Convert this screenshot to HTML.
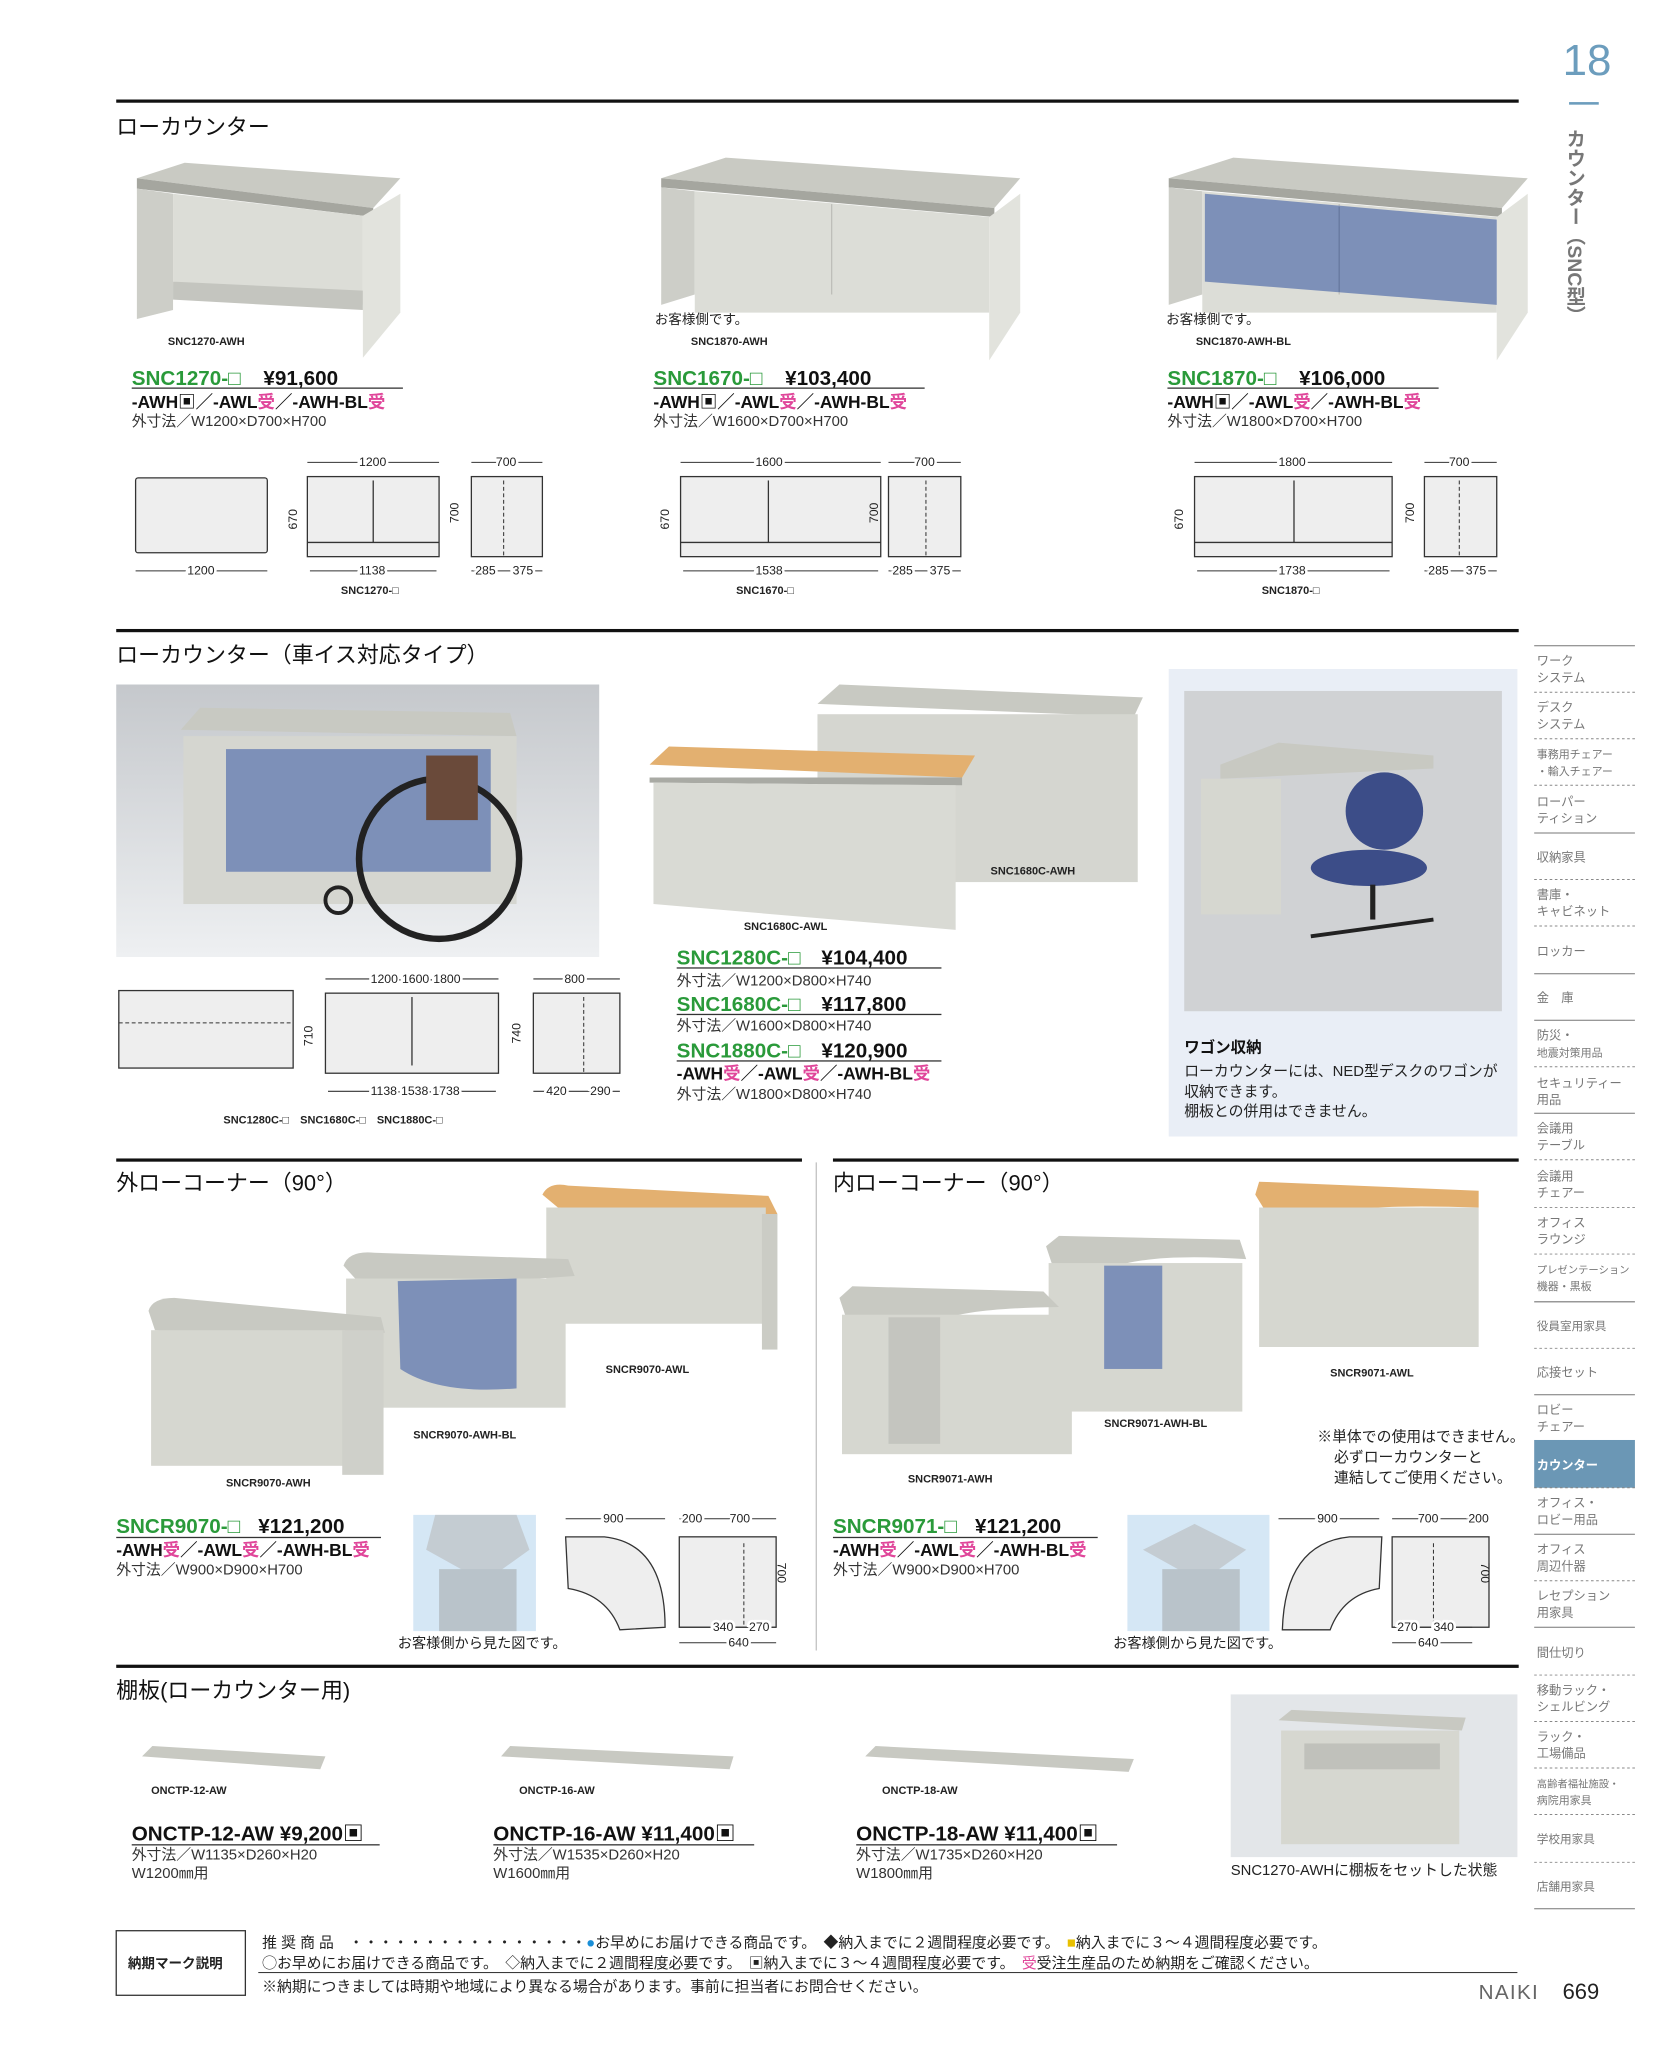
<!DOCTYPE html>
<html><head><meta charset="utf-8">
<style>
html,body{margin:0;padding:0;background:#fff;width:1653px;height:2047px;overflow:hidden}
svg{display:block}
text{font-family:"Liberation Sans","Noto Sans CJK JP",sans-serif}
.h{font-size:17px;fill:#111}
.lb{font-size:8.5px;font-weight:bold;fill:#222}
.g{font-size:16px;font-weight:bold;fill:#2a9a3a}
.p{font-size:16px;font-weight:bold;fill:#111}
.v{font-size:13.5px;font-weight:bold;fill:#111}
.s{font-size:11.5px;fill:#333}
.d{font-size:9.5px;fill:#222}
.sb{font-size:9.5px;fill:#777}
.m{fill:#e0469a}
</style></head><body>
<svg width="1653" height="2047" viewBox="0 0 1280 1585" xmlns="http://www.w3.org/2000/svg">
<defs>
<linearGradient id="bg1" x1="0" y1="0" x2="0" y2="1"><stop offset="0" stop-color="#c5c8cc"/><stop offset="1" stop-color="#eef0f2"/></linearGradient>
<g id="cnt">
<polygon points="512,138 562,122 790,138 770,161" fill="#c9cac3"/>
<polygon points="512,138 770,161 770,168 512,145" fill="#a5a69f"/>
<polygon points="512,145 538,148 538,228 512,236" fill="#cdcec8"/>
<polygon points="538,148 766,168 766,242 538,242" fill="#dcddd7"/>
<polygon points="766,168 790,150 790,242 766,279" fill="#e2e3dd"/>
<line x1="644" y1="158" x2="644" y2="228" stroke="#bdbeb8"/>
</g>
</defs>
<!-- header -->
<text x="1210" y="58" font-size="34" fill="#6c9dbd">18</text>
<rect x="1215" y="79" width="23" height="2" fill="#6c9dbd"/>
<text x="1219" y="100" font-size="15" fill="#777" style="writing-mode:vertical-rl" font-weight="bold">カウンター（SNC型）</text>

<rect x="90" y="77" width="1086" height="2.5" fill="#111"/>
<text x="90" y="104" class="h">ローカウンター</text>

<!-- counter 1 -->
<polygon points="106,138 143,126 310,138 289,161" fill="#c9cac3"/>
<polygon points="106,138 289,161 289,168 106,146" fill="#a5a69f"/>
<polygon points="106,146 134,150 134,240 106,247" fill="#cdcec8"/>
<polygon points="134,150 281,167 281,236 134,218" fill="#dcddd7"/>
<polygon points="134,218 281,225 281,240 134,232" fill="#c4c5bf"/>
<polygon points="281,167 310,150 310,242 281,277" fill="#e2e3dd"/>
<text x="130" y="267" class="lb">SNC1270-AWH</text>
<!-- counter 2 -->
<use href="#cnt"/>
<text x="507" y="251" font-size="10.5" fill="#222">お客様側です。</text>
<text x="535" y="267" class="lb">SNC1870-AWH</text>
<!-- counter 3 -->
<g transform="translate(393,0)">
<use href="#cnt"/>
<polygon points="540,150 766,170 766,236 540,218" fill="#7d90b8"/>
<line x1="644" y1="160" x2="644" y2="226" stroke="#66799f"/>
</g>
<text x="903" y="251" font-size="10.5" fill="#222">お客様側です。</text>
<text x="926" y="267" class="lb">SNC1870-AWH-BL</text>

<!-- prices row 1 -->
<text x="102" y="298" class="g">SNC1270-□</text><text x="204" y="298" class="p">¥91,600</text>
<rect x="102" y="300" width="210" height="1" fill="#333"/>
<text x="102" y="316" class="v">-AWH▣／-AWL<tspan class="m">受</tspan>／-AWH-BL<tspan class="m">受</tspan></text>
<text x="102" y="330" class="s">外寸法／W1200×D700×H700</text>
<text x="506" y="298" class="g">SNC1670-□</text><text x="608" y="298" class="p">¥103,400</text>
<rect x="506" y="300" width="210" height="1" fill="#333"/>
<text x="506" y="316" class="v">-AWH▣／-AWL<tspan class="m">受</tspan>／-AWH-BL<tspan class="m">受</tspan></text>
<text x="506" y="330" class="s">外寸法／W1600×D700×H700</text>
<text x="904" y="298" class="g">SNC1870-□</text><text x="1006" y="298" class="p">¥106,000</text>
<rect x="904" y="300" width="210" height="1" fill="#333"/>
<text x="904" y="316" class="v">-AWH▣／-AWL<tspan class="m">受</tspan>／-AWH-BL<tspan class="m">受</tspan></text>
<text x="904" y="330" class="s">外寸法／W1800×D700×H700</text>

<!-- dims row 1 -->
<g fill="#eee" stroke="#333" stroke-width="1">
<rect x="105" y="370" width="102" height="58" rx="2"/>
<rect x="238" y="369" width="102" height="62"/><line x1="289" y1="372" x2="289" y2="420"/><line x1="238" y1="420" x2="340" y2="420"/>
<rect x="365" y="369" width="55" height="62"/>
<rect x="527" y="369" width="155" height="62"/><line x1="595" y1="372" x2="595" y2="420"/><line x1="527" y1="420" x2="682" y2="420"/>
<rect x="688" y="369" width="56" height="62"/>
<rect x="925" y="369" width="153" height="62"/><line x1="1002" y1="372" x2="1002" y2="420"/><line x1="925" y1="420" x2="1078" y2="420"/>
<rect x="1103" y="369" width="56" height="62"/>
</g>
<g stroke="#333" stroke-width="0.8" fill="none">
<line x1="238" y1="358" x2="340" y2="358"/><line x1="365" y1="358" x2="420" y2="358"/>
<line x1="105" y1="442" x2="207" y2="442"/><line x1="240" y1="442" x2="338" y2="442"/><line x1="365" y1="442" x2="420" y2="442"/>
<line x1="527" y1="358" x2="682" y2="358"/><line x1="688" y1="358" x2="744" y2="358"/>
<line x1="529" y1="442" x2="680" y2="442"/><line x1="688" y1="442" x2="744" y2="442"/>
<line x1="925" y1="358" x2="1078" y2="358"/><line x1="1103" y1="358" x2="1159" y2="358"/>
<line x1="927" y1="442" x2="1076" y2="442"/><line x1="1103" y1="442" x2="1159" y2="442"/>
<line x1="390" y1="372" x2="390" y2="430" stroke-dasharray="3,2"/><line x1="717" y1="372" x2="717" y2="430" stroke-dasharray="3,2"/><line x1="1130" y1="372" x2="1130" y2="430" stroke-dasharray="3,2"/>
</g>
<g>
<text x="278" y="361" class="d" stroke="#fff" stroke-width="4" style="paint-order:stroke">1200</text>
<text x="384" y="361" class="d" stroke="#fff" stroke-width="4" style="paint-order:stroke">700</text>
<text x="145" y="445" class="d" stroke="#fff" stroke-width="4" style="paint-order:stroke">1200</text>
<text x="278" y="445" class="d" stroke="#fff" stroke-width="4" style="paint-order:stroke">1138</text>
<text x="368" y="445" class="d" stroke="#fff" stroke-width="4" style="paint-order:stroke">285</text><text x="397" y="445" class="d" stroke="#fff" stroke-width="4" style="paint-order:stroke">375</text>
<text x="264" y="460" class="lb">SNC1270-□</text>
<text x="585" y="361" class="d" stroke="#fff" stroke-width="4" style="paint-order:stroke">1600</text>
<text x="708" y="361" class="d" stroke="#fff" stroke-width="4" style="paint-order:stroke">700</text>
<text x="585" y="445" class="d" stroke="#fff" stroke-width="4" style="paint-order:stroke">1538</text>
<text x="691" y="445" class="d" stroke="#fff" stroke-width="4" style="paint-order:stroke">285</text><text x="720" y="445" class="d" stroke="#fff" stroke-width="4" style="paint-order:stroke">375</text>
<text x="570" y="460" class="lb">SNC1670-□</text>
<text x="990" y="361" class="d" stroke="#fff" stroke-width="4" style="paint-order:stroke">1800</text>
<text x="1122" y="361" class="d" stroke="#fff" stroke-width="4" style="paint-order:stroke">700</text>
<text x="990" y="445" class="d" stroke="#fff" stroke-width="4" style="paint-order:stroke">1738</text>
<text x="1106" y="445" class="d" stroke="#fff" stroke-width="4" style="paint-order:stroke">285</text><text x="1135" y="445" class="d" stroke="#fff" stroke-width="4" style="paint-order:stroke">375</text>
<text x="977" y="460" class="lb">SNC1870-□</text>
<text x="230" y="410" class="d" transform="rotate(-90 230 410)">670</text>
<text x="355" y="405" class="d" transform="rotate(-90 355 405)">700</text>
<text x="518" y="410" class="d" transform="rotate(-90 518 410)">670</text>
<text x="680" y="405" class="d" transform="rotate(-90 680 405)">700</text>
<text x="916" y="410" class="d" transform="rotate(-90 916 410)">670</text>
<text x="1095" y="405" class="d" transform="rotate(-90 1095 405)">700</text>
</g>

<!-- section 2 -->
<rect x="90" y="487" width="1086" height="2.5" fill="#111"/>
<text x="90" y="513" class="h">ローカウンター（車イス対応タイプ）</text>
<rect x="90" y="530" width="374" height="211" fill="url(#bg1)"/>
<polygon points="140,565 155,548 395,552 400,570" fill="#c8c9c2"/>
<rect x="142" y="570" width="258" height="130" fill="#d5d6d0"/>
<rect x="175" y="580" width="205" height="95" fill="#7d90b8"/>
<circle cx="340" cy="665" r="62" fill="none" stroke="#222" stroke-width="5"/>
<rect x="330" y="585" width="40" height="50" fill="#6a4a3a"/>
<circle cx="262" cy="697" r="10" fill="none" stroke="#222" stroke-width="3"/>

<polygon points="633,545 650,530 885,540 878,555" fill="#c8c9c2"/>
<rect x="633" y="553" width="248" height="130" fill="#d5d6d0"/>
<polygon points="503,592 518,578 755,585 745,602" fill="#e3b070"/>
<polygon points="503,602 745,602 745,608 503,606" fill="#a9aaa4"/>
<polygon points="506,606 740,608 740,720 506,700" fill="#d9dad4"/>
<text x="767" y="677" class="lb">SNC1680C-AWH</text>
<text x="576" y="720" class="lb">SNC1680C-AWL</text>

<rect x="905" y="518" width="270" height="362" fill="#e9eef6"/>
<rect x="917" y="535" width="246" height="248" fill="#d0d2d4"/>
<polygon points="945,592 990,575 1110,585 1110,595 945,603" fill="#c8c9c2"/>
<rect x="930" y="603" width="62" height="105" fill="#d6d7d0"/>
<ellipse cx="1072" cy="628" rx="30" ry="30" fill="#3c4d88"/>
<ellipse cx="1060" cy="672" rx="45" ry="14" fill="#3c4d88"/>
<line x1="1063" y1="685" x2="1063" y2="712" stroke="#222" stroke-width="4"/>
<line x1="1015" y1="725" x2="1110" y2="712" stroke="#222" stroke-width="3"/>
<text x="917" y="815" font-size="12" font-weight="bold" fill="#111">ワゴン収納</text>
<text x="917" y="833" font-size="11.5" fill="#222">ローカウンターには、NED型デスクのワゴンが</text>
<text x="917" y="849" font-size="11.5" fill="#222">収納できます。</text>
<text x="917" y="864" font-size="11.5" fill="#222">棚板との併用はできません。</text>

<text x="524" y="747" class="g">SNC1280C-□</text><text x="636" y="747" class="p">¥104,400</text>
<rect x="524" y="749" width="205" height="1" fill="#333"/>
<text x="524" y="763" class="s">外寸法／W1200×D800×H740</text>
<text x="524" y="783" class="g">SNC1680C-□</text><text x="636" y="783" class="p">¥117,800</text>
<rect x="524" y="785" width="205" height="1" fill="#333"/>
<text x="524" y="798" class="s">外寸法／W1600×D800×H740</text>
<text x="524" y="819" class="g">SNC1880C-□</text><text x="636" y="819" class="p">¥120,900</text>
<rect x="524" y="821" width="205" height="1" fill="#333"/>
<text x="524" y="836" class="v">-AWH<tspan class="m">受</tspan>／-AWL<tspan class="m">受</tspan>／-AWH-BL<tspan class="m">受</tspan></text>
<text x="524" y="851" class="s">外寸法／W1800×D800×H740</text>

<g fill="#eee" stroke="#333">
<rect x="92" y="767" width="135" height="60"/>
<rect x="252" y="769" width="134" height="62"/><line x1="319" y1="772" x2="319" y2="825"/>
<rect x="413" y="769" width="67" height="62"/>
</g>
<g stroke="#333" stroke-width="0.8">
<line x1="92" y1="792" x2="227" y2="792" stroke-dasharray="3,2"/>
<line x1="252" y1="758" x2="386" y2="758"/><line x1="413" y1="758" x2="480" y2="758"/>
<line x1="254" y1="845" x2="384" y2="845"/><line x1="413" y1="845" x2="480" y2="845"/>
<line x1="452" y1="772" x2="452" y2="830" stroke-dasharray="3,2"/>
</g>
<text x="287" y="761" class="d" stroke="#fff" stroke-width="4" style="paint-order:stroke">1200·1600·1800</text>
<text x="437" y="761" class="d" stroke="#fff" stroke-width="4" style="paint-order:stroke">800</text>
<text x="287" y="848" class="d" stroke="#fff" stroke-width="4" style="paint-order:stroke">1138·1538·1738</text>
<text x="423" y="848" class="d" stroke="#fff" stroke-width="4" style="paint-order:stroke">420</text><text x="457" y="848" class="d" stroke="#fff" stroke-width="4" style="paint-order:stroke">290</text>
<text x="242" y="810" class="d" transform="rotate(-90 242 810)">710</text>
<text x="403" y="808" class="d" transform="rotate(-90 403 808)">740</text>
<text x="173" y="870" class="lb">SNC1280C-□　SNC1680C-□　SNC1880C-□</text>

<!-- section 3 -->
<rect x="90" y="897" width="531" height="2.5" fill="#111"/>
<rect x="645" y="897" width="531" height="2.5" fill="#111"/>
<line x1="632" y1="900" x2="632" y2="1278" stroke="#999" stroke-width="0.6"/>
<text x="90" y="922" class="h">外ローコーナー（90°）</text>
<text x="645" y="922" class="h">内ローコーナー（90°）</text>
<path d="M420,925 Q425,915 440,918 L595,926 L602,940 L590,945 Q520,945 432,935 Z" fill="#e3b070"/>
<rect x="423" y="935" width="170" height="90" fill="#d6d7d0"/><rect x="590" y="940" width="12" height="105" fill="#cbccc5"/>
<path d="M266,980 Q270,968 290,970 L440,975 L445,988 Q360,995 275,990 Z" fill="#c8c9c2"/>
<rect x="268" y="990" width="170" height="100" fill="#d6d7d0"/>
<path d="M308,992 L400,990 L400,1075 Q340,1080 310,1060 Z" fill="#7d90b8"/>
<path d="M115,1015 Q118,1005 135,1005 L295,1020 L298,1032 Q210,1035 120,1030 Z" fill="#c8c9c2"/>
<rect x="117" y="1030" width="150" height="105" fill="#d6d7d0"/><rect x="265" y="1030" width="32" height="112" fill="#cfd0ca"/>
<text x="469" y="1063" class="lb">SNCR9070-AWL</text>
<text x="320" y="1114" class="lb">SNCR9070-AWH-BL</text>
<text x="175" y="1151" class="lb">SNCR9070-AWH</text>
<path d="M972,925 L975,915 L1145,922 L1145,935 Q1055,932 1030,940 L980,938 Z" fill="#e3b070"/>
<rect x="975" y="935" width="170" height="108" fill="#d6d7d0"/>
<path d="M810,965 L820,957 L960,960 L965,975 Q890,970 860,982 L815,980 Z" fill="#c8c9c2"/>
<rect x="812" y="978" width="150" height="115" fill="#d6d7d0"/><rect x="855" y="980" width="45" height="80" fill="#7d90b8"/>
<path d="M650,1005 L660,996 L808,1000 L820,1012 Q750,1013 730,1022 L655,1020 Z" fill="#c8c9c2"/>
<rect x="652" y="1018" width="178" height="108" fill="#d6d7d0"/><rect x="688" y="1020" width="40" height="98" fill="#c4c5bf"/>
<text x="1030" y="1066" class="lb">SNCR9071-AWL</text>
<text x="855" y="1105" class="lb">SNCR9071-AWH-BL</text>
<text x="703" y="1148" class="lb">SNCR9071-AWH</text>
<text x="1020" y="1116" font-size="11.5" fill="#222">※単体での使用はできません。</text>
<text x="1033" y="1132" font-size="11.5" fill="#222">必ずローカウンターと</text>
<text x="1033" y="1148" font-size="11.5" fill="#222">連結してご使用ください。</text>

<text x="90" y="1187" class="g">SNCR9070-□</text><text x="200" y="1187" class="p">¥121,200</text>
<rect x="90" y="1190" width="205" height="1" fill="#333"/>
<text x="90" y="1205" class="v">-AWH<tspan class="m">受</tspan>／-AWL<tspan class="m">受</tspan>／-AWH-BL<tspan class="m">受</tspan></text>
<text x="90" y="1219" class="s">外寸法／W900×D900×H700</text>
<text x="645" y="1187" class="g">SNCR9071-□</text><text x="755" y="1187" class="p">¥121,200</text>
<rect x="645" y="1190" width="205" height="1" fill="#333"/>
<text x="645" y="1205" class="v">-AWH<tspan class="m">受</tspan>／-AWL<tspan class="m">受</tspan>／-AWH-BL<tspan class="m">受</tspan></text>
<text x="645" y="1219" class="s">外寸法／W900×D900×H700</text>

<rect x="320" y="1173" width="95" height="90" fill="#d5e7f5"/>
<polygon points="337,1173 400,1173 410,1200 375,1225 330,1200" fill="#c4ccd2"/>
<rect x="340" y="1215" width="60" height="48" fill="#b9c3ca"/>
<rect x="873" y="1173" width="110" height="90" fill="#d5e7f5"/>
<polygon points="885,1200 925,1180 965,1200 930,1225" fill="#c4ccd2"/>
<rect x="900" y="1215" width="60" height="48" fill="#b9c3ca"/>
<g fill="#eee" stroke="#333">
<path d="M438,1190 L468,1190 Q515,1195 515,1260 L480,1262 Q470,1235 440,1230 Z"/>
<rect x="526" y="1190" width="75" height="70"/>
<path d="M1070,1190 L1045,1190 Q995,1195 993,1262 L1030,1262 Q1040,1235 1068,1230 Z"/>
<rect x="1078" y="1190" width="75" height="70"/>
</g>
<g stroke="#333" stroke-width="0.8">
<line x1="438" y1="1176" x2="515" y2="1176"/><line x1="526" y1="1176" x2="601" y2="1176"/>
<line x1="526" y1="1260" x2="601" y2="1260"/><line x1="526" y1="1272" x2="601" y2="1272"/>
<line x1="990" y1="1176" x2="1068" y2="1176"/><line x1="1078" y1="1176" x2="1153" y2="1176"/>
<line x1="1078" y1="1260" x2="1140" y2="1260"/><line x1="1078" y1="1272" x2="1140" y2="1272"/>
<line x1="576" y1="1195" x2="576" y2="1258" stroke-dasharray="3,2"/><line x1="1110" y1="1195" x2="1110" y2="1258" stroke-dasharray="3,2"/>
</g>
<text x="467" y="1179" class="d" stroke="#fff" stroke-width="4" style="paint-order:stroke">900</text>
<text x="528" y="1179" class="d" font-size="8" stroke="#fff" stroke-width="4" style="paint-order:stroke">200</text><text x="565" y="1179" class="d" stroke="#fff" stroke-width="4" style="paint-order:stroke">700</text>
<text x="552" y="1263" class="d" stroke="#fff" stroke-width="4" style="paint-order:stroke">340</text><text x="580" y="1263" class="d" stroke="#fff" stroke-width="4" style="paint-order:stroke">270</text><text x="564" y="1275" class="d" stroke="#fff" stroke-width="4" style="paint-order:stroke">640</text>
<text x="1020" y="1179" class="d" stroke="#fff" stroke-width="4" style="paint-order:stroke">900</text>
<text x="1098" y="1179" class="d" stroke="#fff" stroke-width="4" style="paint-order:stroke">700</text><text x="1137" y="1179" class="d" font-size="8" stroke="#fff" stroke-width="4" style="paint-order:stroke">200</text>
<text x="1082" y="1263" class="d" stroke="#fff" stroke-width="4" style="paint-order:stroke">270</text><text x="1110" y="1263" class="d" stroke="#fff" stroke-width="4" style="paint-order:stroke">340</text><text x="1098" y="1275" class="d" stroke="#fff" stroke-width="4" style="paint-order:stroke">640</text>
<text x="617" y="1225" class="d" transform="rotate(90 617 1210)">700</text>
<text x="1162" y="1225" class="d" transform="rotate(90 1162 1210)">700</text>
<text x="308" y="1276" font-size="11" fill="#222">お客様側から見た図です。</text>
<text x="862" y="1276" font-size="11" fill="#222">お客様側から見た図です。</text>

<!-- section 4 -->
<rect x="90" y="1289" width="1086" height="2.5" fill="#111"/>
<text x="90" y="1315" class="h">棚板(ローカウンター用)</text>
<polygon points="110,1360 118,1352 252,1360 248,1370" fill="#c8c9c2"/>
<polygon points="388,1360 395,1352 568,1360 565,1370" fill="#c8c9c2"/>
<polygon points="670,1360 678,1352 878,1362 874,1372" fill="#c8c9c2"/>
<text x="117" y="1389" class="lb">ONCTP-12-AW</text>
<text x="402" y="1389" class="lb">ONCTP-16-AW</text>
<text x="683" y="1389" class="lb">ONCTP-18-AW</text>
<text x="102" y="1425" class="p">ONCTP-12-AW ¥9,200▣</text><rect x="102" y="1428" width="192" height="1" fill="#333"/>
<text x="102" y="1440" class="s">外寸法／W1135×D260×H20</text><text x="102" y="1454" class="s">W1200㎜用</text>
<text x="382" y="1425" class="p">ONCTP-16-AW ¥11,400▣</text><rect x="382" y="1428" width="202" height="1" fill="#333"/>
<text x="382" y="1440" class="s">外寸法／W1535×D260×H20</text><text x="382" y="1454" class="s">W1600㎜用</text>
<text x="663" y="1425" class="p">ONCTP-18-AW ¥11,400▣</text><rect x="663" y="1428" width="202" height="1" fill="#333"/>
<text x="663" y="1440" class="s">外寸法／W1735×D260×H20</text><text x="663" y="1454" class="s">W1800㎜用</text>
<rect x="953" y="1312" width="222" height="126" fill="#e3e6e9"/>
<polygon points="990,1332 1000,1324 1135,1330 1132,1340" fill="#c8c9c2"/>
<rect x="992" y="1340" width="138" height="88" fill="#d6d7d0"/>
<rect x="1010" y="1350" width="105" height="20" fill="#c0c1bb"/>
<text x="953" y="1452" font-size="11.5" fill="#222">SNC1270-AWHに棚板をセットした状態</text>

<!-- legend -->
<rect x="90" y="1495" width="100" height="50" fill="#fff" stroke="#333"/>
<text x="99" y="1524" font-size="10.5" font-weight="bold" fill="#222">納期マーク説明</text>
<g font-size="11.5" fill="#222">
<text x="203" y="1508">推 奨 商 品　・・・・・・・・・・・・・・・・<tspan fill="#1a8fd8">●</tspan>お早めにお届けできる商品です。　◆納入までに２週間程度必要です。　<tspan fill="#e8c000">■</tspan>納入までに３～４週間程度必要です。</text>
<text x="203" y="1524">◯お早めにお届けできる商品です。　◇納入までに２週間程度必要です。　▣納入までに３～４週間程度必要です。　<tspan class="m">受</tspan>受注生産品のため納期をご確認ください。</text>
<text x="203" y="1542">※納期につきましては時期や地域により異なる場合があります。事前に担当者にお問合せください。</text>
</g>
<rect x="200" y="1527" width="975" height="0.8" fill="#333"/>
<text x="1145" y="1548" font-size="16" fill="#666" letter-spacing="1">NAIKI</text>
<text x="1210" y="1548" font-size="17" fill="#222">669</text>

<!-- sidebar -->
<rect x="1188" y="1115" width="78" height="37" fill="#6b97b5"/>
<g class="sb">
<text x="1190" y="515">ワーク</text><text x="1190" y="528">システム</text>
<text x="1190" y="551">デスク</text><text x="1190" y="564">システム</text>
<text x="1190" y="587" font-size="8.5">事務用チェアー</text><text x="1190" y="600" font-size="8.5">・輸入チェアー</text>
<text x="1190" y="624">ローパー</text><text x="1190" y="637">ティション</text>
<text x="1190" y="667">収納家具</text>
<text x="1190" y="696">書庫・</text><text x="1190" y="709">キャビネット</text>
<text x="1190" y="740">ロッカー</text>
<text x="1190" y="776">金　庫</text>
<text x="1190" y="805">防災・</text><text x="1190" y="818" font-size="8.5">地震対策用品</text>
<text x="1190" y="842">セキュリティー</text><text x="1190" y="855">用品</text>
<text x="1190" y="877">会議用</text><text x="1190" y="890">テーブル</text>
<text x="1190" y="914">会議用</text><text x="1190" y="927">チェアー</text>
<text x="1190" y="950">オフィス</text><text x="1190" y="963">ラウンジ</text>
<text x="1190" y="986" font-size="8">プレゼンテーション</text><text x="1190" y="999" font-size="8.5">機器・黒板</text>
<text x="1190" y="1030" font-size="9">役員室用家具</text>
<text x="1190" y="1066">応接セット</text>
<text x="1190" y="1095">ロビー</text><text x="1190" y="1108">チェアー</text>
<text x="1190" y="1138" fill="#fff" font-weight="bold">カウンター</text>
<text x="1190" y="1167">オフィス・</text><text x="1190" y="1180">ロビー用品</text>
<text x="1190" y="1203">オフィス</text><text x="1190" y="1216">周辺什器</text>
<text x="1190" y="1239">レセプション</text><text x="1190" y="1252">用家具</text>
<text x="1190" y="1283">間仕切り</text>
<text x="1190" y="1312">移動ラック・</text><text x="1190" y="1325">シェルビング</text>
<text x="1190" y="1348">ラック・</text><text x="1190" y="1361">工場備品</text>
<text x="1190" y="1384" font-size="8">高齢者福祉施設・</text><text x="1190" y="1397" font-size="8.5">病院用家具</text>
<text x="1190" y="1427" font-size="9">学校用家具</text>
<text x="1190" y="1464" font-size="9">店舗用家具</text>
</g>
<g stroke="#888" stroke-width="0.7" stroke-dasharray="2,2">
<line x1="1188" y1="536" x2="1266" y2="536"/><line x1="1188" y1="572" x2="1266" y2="572"/><line x1="1188" y1="608" x2="1266" y2="608"/>
<line x1="1188" y1="681" x2="1266" y2="681"/><line x1="1188" y1="717" x2="1266" y2="717"/>
<line x1="1188" y1="826" x2="1266" y2="826"/><line x1="1188" y1="898" x2="1266" y2="898"/><line x1="1188" y1="935" x2="1266" y2="935"/><line x1="1188" y1="971" x2="1266" y2="971"/>
<line x1="1188" y1="1044" x2="1266" y2="1044"/><line x1="1188" y1="1152" x2="1266" y2="1152"/><line x1="1188" y1="1224" x2="1266" y2="1224"/>
<line x1="1188" y1="1297" x2="1266" y2="1297"/><line x1="1188" y1="1333" x2="1266" y2="1333"/><line x1="1188" y1="1369" x2="1266" y2="1369"/><line x1="1188" y1="1405" x2="1266" y2="1405"/><line x1="1188" y1="1442" x2="1266" y2="1442"/>
</g>
<g stroke="#777" stroke-width="0.8">
<line x1="1188" y1="500" x2="1266" y2="500"/><line x1="1188" y1="645" x2="1266" y2="645"/><line x1="1188" y1="754" x2="1266" y2="754"/><line x1="1188" y1="790" x2="1266" y2="790"/>
<line x1="1188" y1="862" x2="1266" y2="862"/><line x1="1188" y1="1008" x2="1266" y2="1008"/><line x1="1188" y1="1080" x2="1266" y2="1080"/><line x1="1188" y1="1188" x2="1266" y2="1188"/>
<line x1="1188" y1="1260" x2="1266" y2="1260"/><line x1="1188" y1="1478" x2="1266" y2="1478"/>
</g>
</svg>
</body></html>
